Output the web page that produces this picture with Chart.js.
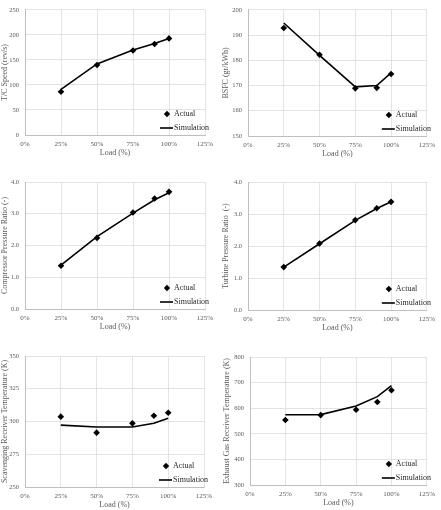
<!DOCTYPE html>
<html>
<head>
<meta charset="utf-8">
<script src="https://cdn.jsdelivr.net/npm/chart.js@4/dist/chart.umd.min.js"></script>
<style>
  html, body { margin: 0; padding: 0; background: #fff; }
  #wrap { position: relative; width: 441px; height: 510px; }
  .panel { position: absolute; width: 220px; height: 170px; }
</style>
</head>
<body>
<div id="wrap">
  <div class="panel" style="left:0;top:0"><canvas id="c1"></canvas></div>
  <div class="panel" style="left:220px;top:0"><canvas id="c2"></canvas></div>
  <div class="panel" style="left:0;top:170px"><canvas id="c3"></canvas></div>
  <div class="panel" style="left:220px;top:170px"><canvas id="c4"></canvas></div>
  <div class="panel" style="left:0;top:340px"><canvas id="c5"></canvas></div>
  <div class="panel" style="left:220px;top:340px"><canvas id="c6"></canvas></div>
</div>
<script>
// load points (%)
const loads = [25, 50, 75, 90, 100];
const xTicks = [0, 25, 50, 75, 100, 125];

// T/C speed
const speedActual = [86.5, 140, 169, 182, 193];
const speedSim = [91, 142, 170, 183, 193];
// BSFC
const bsfcActual = [192.8, 182.2, 168.9, 169.1, 174.6];
const bsfcSim = [194.8, 182, 169.5, 170, 175];
// compressor pressure ratio
const cprActual = [1.36, 2.24, 3.04, 3.48, 3.69];
const cprSim = [1.38, 2.28, 3.02, 3.44, 3.66];
// turbine pressure ratio
const tprActual = [1.34, 2.08, 2.81, 3.18, 3.38];
const tprSim = [1.34, 2.07, 2.80, 3.17, 3.38];
// scavenging receiver temp
const scavActual = [303.7, 291.5, 298.6, 304.4, 306.7];
const scavSim = [297.2, 295.8, 295.8, 298.6, 302.4];
// exhaust gas receiver temp
const exhActual = [554, 573, 594, 624, 670];
const exhSim = [574.5, 575, 608.5, 645, 688];

const FONT = "'Liberation Serif', 'DejaVu Serif', serif";
const GREY = '#595959';

// legend drawn inside the plot, bottom right
const innerLegend = {
  id: 'innerLegend',
  afterDraw(chart) {
    const ctx = chart.ctx, a = chart.chartArea;
    ctx.save();
    ctx.fillStyle = '#000';
    ctx.strokeStyle = '#000';
    const dx = a.right - 38, dy = a.bottom - 21;
    ctx.beginPath();
    ctx.moveTo(dx, dy - 3.2); ctx.lineTo(dx + 3.2, dy); ctx.lineTo(dx, dy + 3.2); ctx.lineTo(dx - 3.2, dy);
    ctx.closePath(); ctx.fill();
    const ly = a.bottom - 7;
    ctx.lineWidth = 1.6;
    ctx.beginPath(); ctx.moveTo(a.right - 45, ly); ctx.lineTo(a.right - 32, ly); ctx.stroke();
    ctx.font = '8px ' + FONT;
    ctx.fillStyle = '#262626';
    ctx.textBaseline = 'middle';
    ctx.fillText('Actual', a.right - 31, dy);
    ctx.fillText('Simulation', a.right - 31, ly);
    ctx.restore();
  }
};

function makePanel(id, box, actual, sim, yMin, yMax, yStep, yDec, yTitle) {
  const W = 220, H = 170;
  new Chart(document.getElementById(id), {
    type: 'scatter',
    data: {
      datasets: [{
        label: 'Actual',
        data: loads.map((x, i) => ({ x: x, y: actual[i] })),
        pointStyle: 'rectRot',
        pointRadius: 3.3,
        backgroundColor: '#000',
        borderColor: '#000',
        borderWidth: 0,
        order: 1
      }, {
        label: 'Simulation',
        type: 'line',
        data: loads.map((x, i) => ({ x: x, y: sim[i] })),
        borderColor: '#000',
        borderWidth: 1.6,
        pointRadius: 0,
        fill: false,
        tension: 0,
        order: 2
      }]
    },
    options: {
      responsive: false,
      animation: false,
      devicePixelRatio: 1,
      layout: { padding: { left: 0, top: box.t, right: W - box.r, bottom: 0 } },
      plugins: { legend: { display: false }, tooltip: { enabled: false } },
      scales: {
        x: {
          type: 'linear', min: 0, max: 125,
          afterBuildTicks: s => { s.ticks = xTicks.map(v => ({ value: v })); },
          afterFit: s => { s.height = H - box.b; },
          grid: { color: '#dcdcdc', lineWidth: 0.8, drawTicks: false },
          border: { display: true, color: '#bfbfbf', width: 1 },
          ticks: { padding: 5, color: GREY, font: { family: FONT, size: 7 }, callback: v => v + '%', maxRotation: 0 },
          title: { display: true, text: 'Load (%)', color: GREY, font: { family: FONT, size: 8 },
                   padding: { top: 0, bottom: H - box.b - 18 - 4.8 } }
        },
        y: {
          min: yMin, max: yMax,
          afterFit: s => { s.width = box.l; },
          grid: { color: '#dcdcdc', lineWidth: 0.8, drawTicks: false },
          border: { display: true, color: '#bfbfbf', width: 1 },
          ticks: { stepSize: yStep, padding: 6, color: GREY, font: { family: FONT, size: 6.5 },
                   callback: v => v.toFixed(yDec) },
          title: { display: true, text: yTitle, color: GREY, font: { family: FONT, size: 8 },
                   padding: { top: box.yt - 4.8, bottom: 0 } }
        }
      }
    },
    plugins: [innerLegend]
  });
  const c = document.getElementById(id);
  c.style.width = W + 'px'; c.style.height = H + 'px';
}

document.querySelectorAll('canvas').forEach(c => { c.width = 220; c.height = 170; });

makePanel('c1', { l: 25, r: 205, t: 7, b: 135, yt: 5 }, speedActual, speedSim, 0, 250, 50, 0, 'T/C Speed (rev/s)');
makePanel('c2', { l: 28, r: 208, t: 7, b: 136, yt: 6 }, bsfcActual, bsfcSim, 150, 200, 10, 0, 'BSFC (gr/kWh)');
makePanel('c3', { l: 25, r: 205, t: 12, b: 139, yt: 5 }, cprActual, cprSim, 0, 4, 1, 1, 'Compressor Pressure Ratio (-)');
makePanel('c4', { l: 28, r: 209, t: 12, b: 140, yt: 6 }, tprActual, tprSim, 0, 4, 1, 1, 'Turbine Pressure Ratio  (-)');
makePanel('c5', { l: 25, r: 204, t: 16, b: 147, yt: 5 }, scavActual, scavSim, 250, 350, 25, 0, 'Scavenging Receiver Temperature (K)');
makePanel('c6', { l: 30, r: 208, t: 17, b: 145, yt: 7 }, exhActual, exhSim, 300, 800, 100, 0, 'Exhaust Gas Receiver Temperature (K)');
</script>
</body>
</html>
